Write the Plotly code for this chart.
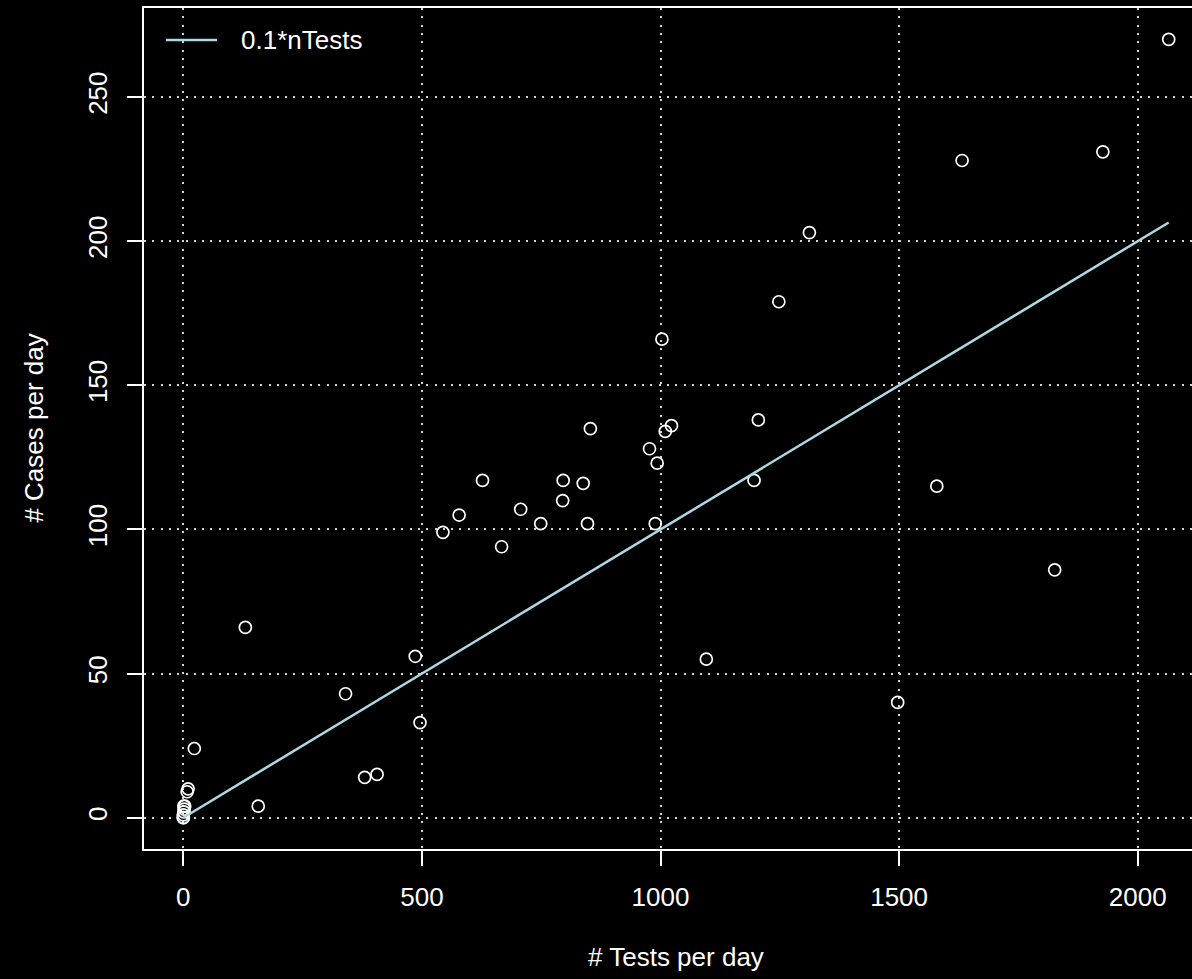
import plotly.graph_objects as go

# Data
tests = [0, 0, 0, 1, 2, 3, 1, 8, 10, 23, 157, 130, 380, 406, 340, 486, 496,
         544, 578, 627, 667, 707, 749, 796, 795, 838, 847, 853, 977, 993, 989,
         1003, 1010, 1023, 1096, 1196, 1205, 1248, 1312, 1497, 1579, 1632,
         1826, 1927, 2065]
cases = [0, 0, 1, 2, 3, 4, 4, 9, 10, 24, 4, 66, 14, 15, 43, 56, 33,
         99, 105, 117, 94, 107, 102, 117, 110, 116, 102, 135, 128, 123, 102,
         166, 134, 136, 55, 117, 138, 179, 203, 40, 115, 228,
         86, 231, 270]
x_ticks = [0, 500, 1000, 1500, 2000]
y_ticks = [0, 50, 100, 150, 200, 250]
line_label = "0.1*nTests"
x_title = "# Tests per day"
y_title = "# Cases per day"

line_x = sorted(tests)
line_y = [0.1 * v for v in line_x]

FONT = "Liberation Sans, Arial, Helvetica, sans-serif"
FS = 26
W, H = 1192, 979
ML, MR, MT, MB = 144, 0, 8, 130
pw = W - ML - MR
ph = H - MT - MB

def px_x(p):
    return (p - ML) / pw

def px_y(p):
    return (H - MB - p) / ph

fig = go.Figure()
fig.add_trace(go.Scatter(
    x=tests, y=cases, mode="markers",
    marker=dict(symbol="circle-open", size=12, color="white",
                line=dict(width=1.7, color="white")),
    showlegend=False, hoverinfo="x+y"))
fig.add_trace(go.Scatter(
    x=line_x, y=line_y, mode="lines", name=line_label,
    line=dict(color="#ADD8E6", width=2.5), showlegend=False))

axis_common = dict(
    showgrid=True, gridcolor="#D3D3D3", griddash="2px,6.3px", gridwidth=1.5,
    zeroline=False, showline=True, linecolor="white", linewidth=1.8,
    ticks="outside", ticklen=15, tickwidth=1.5, tickcolor="white",
    tickfont=dict(family=FONT, size=FS, color="white"),
)
fig.update_xaxes(**axis_common, range=[-82.4, 2113.8], tickvals=x_ticks,
                 ticktext=[str(v) for v in x_ticks], mirror=True,
                 ticklabelstandoff=9)
fig.update_yaxes(**axis_common, range=[-10.86, 280.9], tickvals=y_ticks,
                 ticktext=[str(v) for v in y_ticks], tickangle=-90,
                 ticklabelstandoff=10)

fig.update_layout(
    width=W, height=H,
    margin=dict(l=ML, r=MR, t=MT, b=MB, pad=0),
    paper_bgcolor="black", plot_bgcolor="black",
    font=dict(family=FONT, color="white", size=FS),
    shapes=[dict(type="line", xref="paper", yref="paper",
                 x0=px_x(166), x1=px_x(217), y0=px_y(40), y1=px_y(40),
                 line=dict(color="#ADD8E6", width=2.5))],
    annotations=[
        dict(text=line_label, xref="paper", yref="paper", x=px_x(239),
             y=px_y(40), xanchor="left", yanchor="middle", showarrow=False,
             font=dict(family=FONT, size=FS, color="white")),
        dict(text=x_title, xref="paper", yref="paper", x=px_x(676),
             y=px_y(957), xanchor="center", yanchor="middle", showarrow=False,
             font=dict(family=FONT, size=FS, color="white")),
        dict(text=y_title, xref="paper", yref="paper", x=px_x(34),
             y=px_y(428.6), xanchor="center", yanchor="middle",
             showarrow=False, textangle=-90,
             font=dict(family=FONT, size=FS, color="white")),
    ],
)

fig.write_html(
    "out.html",
    config={"displayModeBar": False},
    post_script="document.body.style.margin='0';"
                "document.body.style.background='black';"
                "document.body.style.overflow='hidden';",
)
